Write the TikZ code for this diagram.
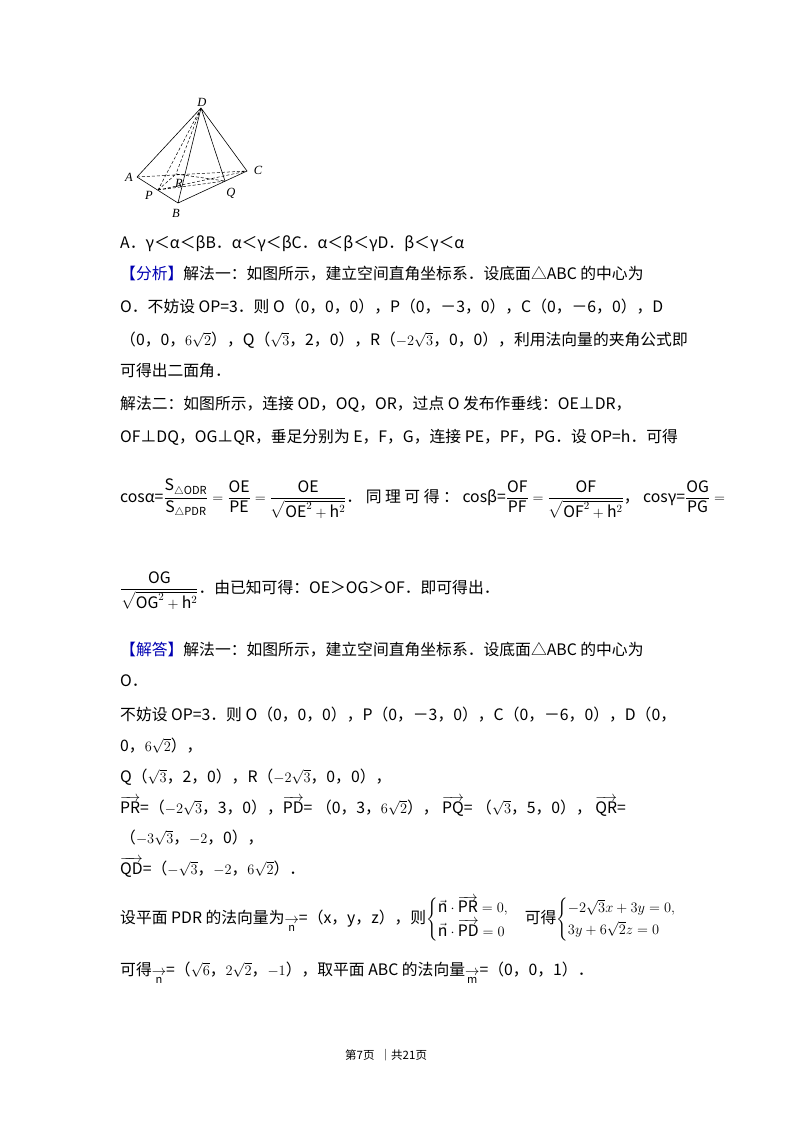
\documentclass[tikz,border=0pt]{standalone}
\usepackage{amsmath}
\usepackage{fontspec}
\setmainfont{Noto Sans CJK SC}
\newfontfamily\ser{Liberation Serif}
\begin{document}
\begin{tikzpicture}[x=1pt,y=-1pt,
  t/.style={anchor=base west,inner sep=0pt,font=\fontsize{15.8}{18}\selectfont},
  lab/.style={font=\ser\itshape\fontsize{12.5}{13}\selectfont,inner sep=0pt},
  dsh/.style={dashed,dash pattern=on 3pt off 2pt,line width=0.5pt},
  sol/.style={line width=0.6pt}]
\useasboundingbox (0,0) rectangle (800,1132);
\fill[white] (0,0) rectangle (800,1132);
% figure
\coordinate (D) at (201,108);
\coordinate (A) at (137,177);
\coordinate (C) at (247,171);
\coordinate (B) at (178,203);
\coordinate (P) at (158,190);
\coordinate (Q) at (225,181);
\coordinate (R) at (176,174);
\draw[sol] (A)--(D)--(C)--(B)--(A) (D)--(B) (D)--(Q);
\draw[dsh] (A)--(C) (D)--(P) (D)--(R) (P)--(Q) (R)--(Q) (P)--(R) (P)--(C);
\node[lab] (lD) at (202,102) {D};
\node[lab] (lA) at (129,177) {A};
\node[lab] (lC) at (258,170) {C};
\node[lab] (lB) at (176,213) {B};
\node[lab] (lP) at (149,195) {P};
\node[lab] (lQ) at (231,193) {Q};
\node[lab] (lR) at (179,183) {R};
% text
\node[t] (l1) at (120,248) {A．γ＜α＜βB．α＜γ＜βC．α＜β＜γD．β＜γ＜α};
\node[t] (l2) at (120,279) {\textcolor{blue!70!black}{【分析】}解法一：如图所示，建立空间直角坐标系．设底面△ABC 的中心为};
\node[t] (l3) at (120,312) {O．不妨设 OP=3．则 O（0，0，0），P（0，－3，0），C（0，－6，0），D};
\node[t] (l4) at (120,345) {（0，0，$6\sqrt{2}$），Q（$\sqrt{3}$，2，0），R（$-2\sqrt{3}$，0，0），利用法向量的夹角公式即};
\node[t] (l5) at (120,376) {可得出二面角．};
\node[t] (l6) at (120,409) {解法二：如图所示，连接 OD，OQ，OR，过点 O 发布作垂线：OE⊥DR，};
\node[t] (l7) at (120,442) {OF⊥DQ，OG⊥QR，垂足分别为 E，F，G，连接 PE，PF，PG．设 OP=h．可得};
\node[t] (l8) at (120,502) {cosα=$\dfrac{\mathrm{S}_{\triangle\mathrm{ODR}}}{\mathrm{S}_{\triangle\mathrm{PDR}}}=\dfrac{\mathrm{OE}}{\mathrm{PE}}=\dfrac{\mathrm{OE}}{\sqrt{\mathrm{OE}^2+\mathrm{h}^2}}$．\ 同\ 理\ 可\ 得\ ：\ cosβ=$\dfrac{\mathrm{OF}}{\mathrm{PF}}=\dfrac{\mathrm{OF}}{\sqrt{\mathrm{OF}^2+\mathrm{h}^2}}$，\ cosγ=$\dfrac{\mathrm{OG}}{\mathrm{PG}}=$};
\node[t] (l9) at (120,593) {$\dfrac{\mathrm{OG}}{\sqrt{\mathrm{OG}^2+\mathrm{h}^2}}$．由已知可得：OE＞OG＞OF．即可得出．};
\node[t] (l10) at (120,655) {\textcolor{blue!70!black}{【解答】}解法一：如图所示，建立空间直角坐标系．设底面△ABC 的中心为};
\node[t] (l11) at (120,686) {O．};
\node[t] (l12) at (120,720) {不妨设 OP=3．则 O（0，0，0），P（0，－3，0），C（0，－6，0），D（0，};
\node[t] (l13) at (120,751) {0，$6\sqrt{2}$），};
\node[t] (l14) at (120,782) {Q（$\sqrt{3}$，2，0），R（$-2\sqrt{3}$，0，0），};
\node[t] (l15) at (120,813) {$\overrightarrow{\mathrm{PR}}$=（$-2\sqrt{3}$，3，0），$\overrightarrow{\mathrm{PD}}$=\ （0，3，$6\sqrt{2}$），\ $\overrightarrow{\mathrm{PQ}}$=\ （$\sqrt{3}$，5，0），\ $\overrightarrow{\mathrm{QR}}$=};
\node[t] (l16) at (120,843) {（$-3\sqrt{3}$，$-2$，0），};
\node[t] (l17) at (120,874) {$\overrightarrow{\mathrm{QD}}$=（$-\sqrt{3}$，$-2$，$6\sqrt{2}$）．};
\node[t] (l18) at (120,923) {设平面 PDR 的法向量为$\underset{\mathrm{n}}{\to}$=（x，y，z），则$\begin{cases}\vec{\mathrm{n}}\cdot\overrightarrow{\mathrm{PR}}=0,\\ \vec{\mathrm{n}}\cdot\overrightarrow{\mathrm{PD}}=0\end{cases}$可得$\begin{cases}-2\sqrt{3}x+3y=0,\\ 3y+6\sqrt{2}z=0\end{cases}$};
\node[t] (l19) at (120,975) {可得$\underset{\mathrm{n}}{\to}$=（$\sqrt{6}$，$2\sqrt{2}$，$-1$），取平面 ABC 的法向量$\underset{\mathrm{m}}{\to}$=（0，0，1）．};
\node[t,font=\fontsize{11.5}{13}\selectfont] (ft) at (345,1059) {第7页\ \ ｜共21页};
\end{tikzpicture}
\end{document}
